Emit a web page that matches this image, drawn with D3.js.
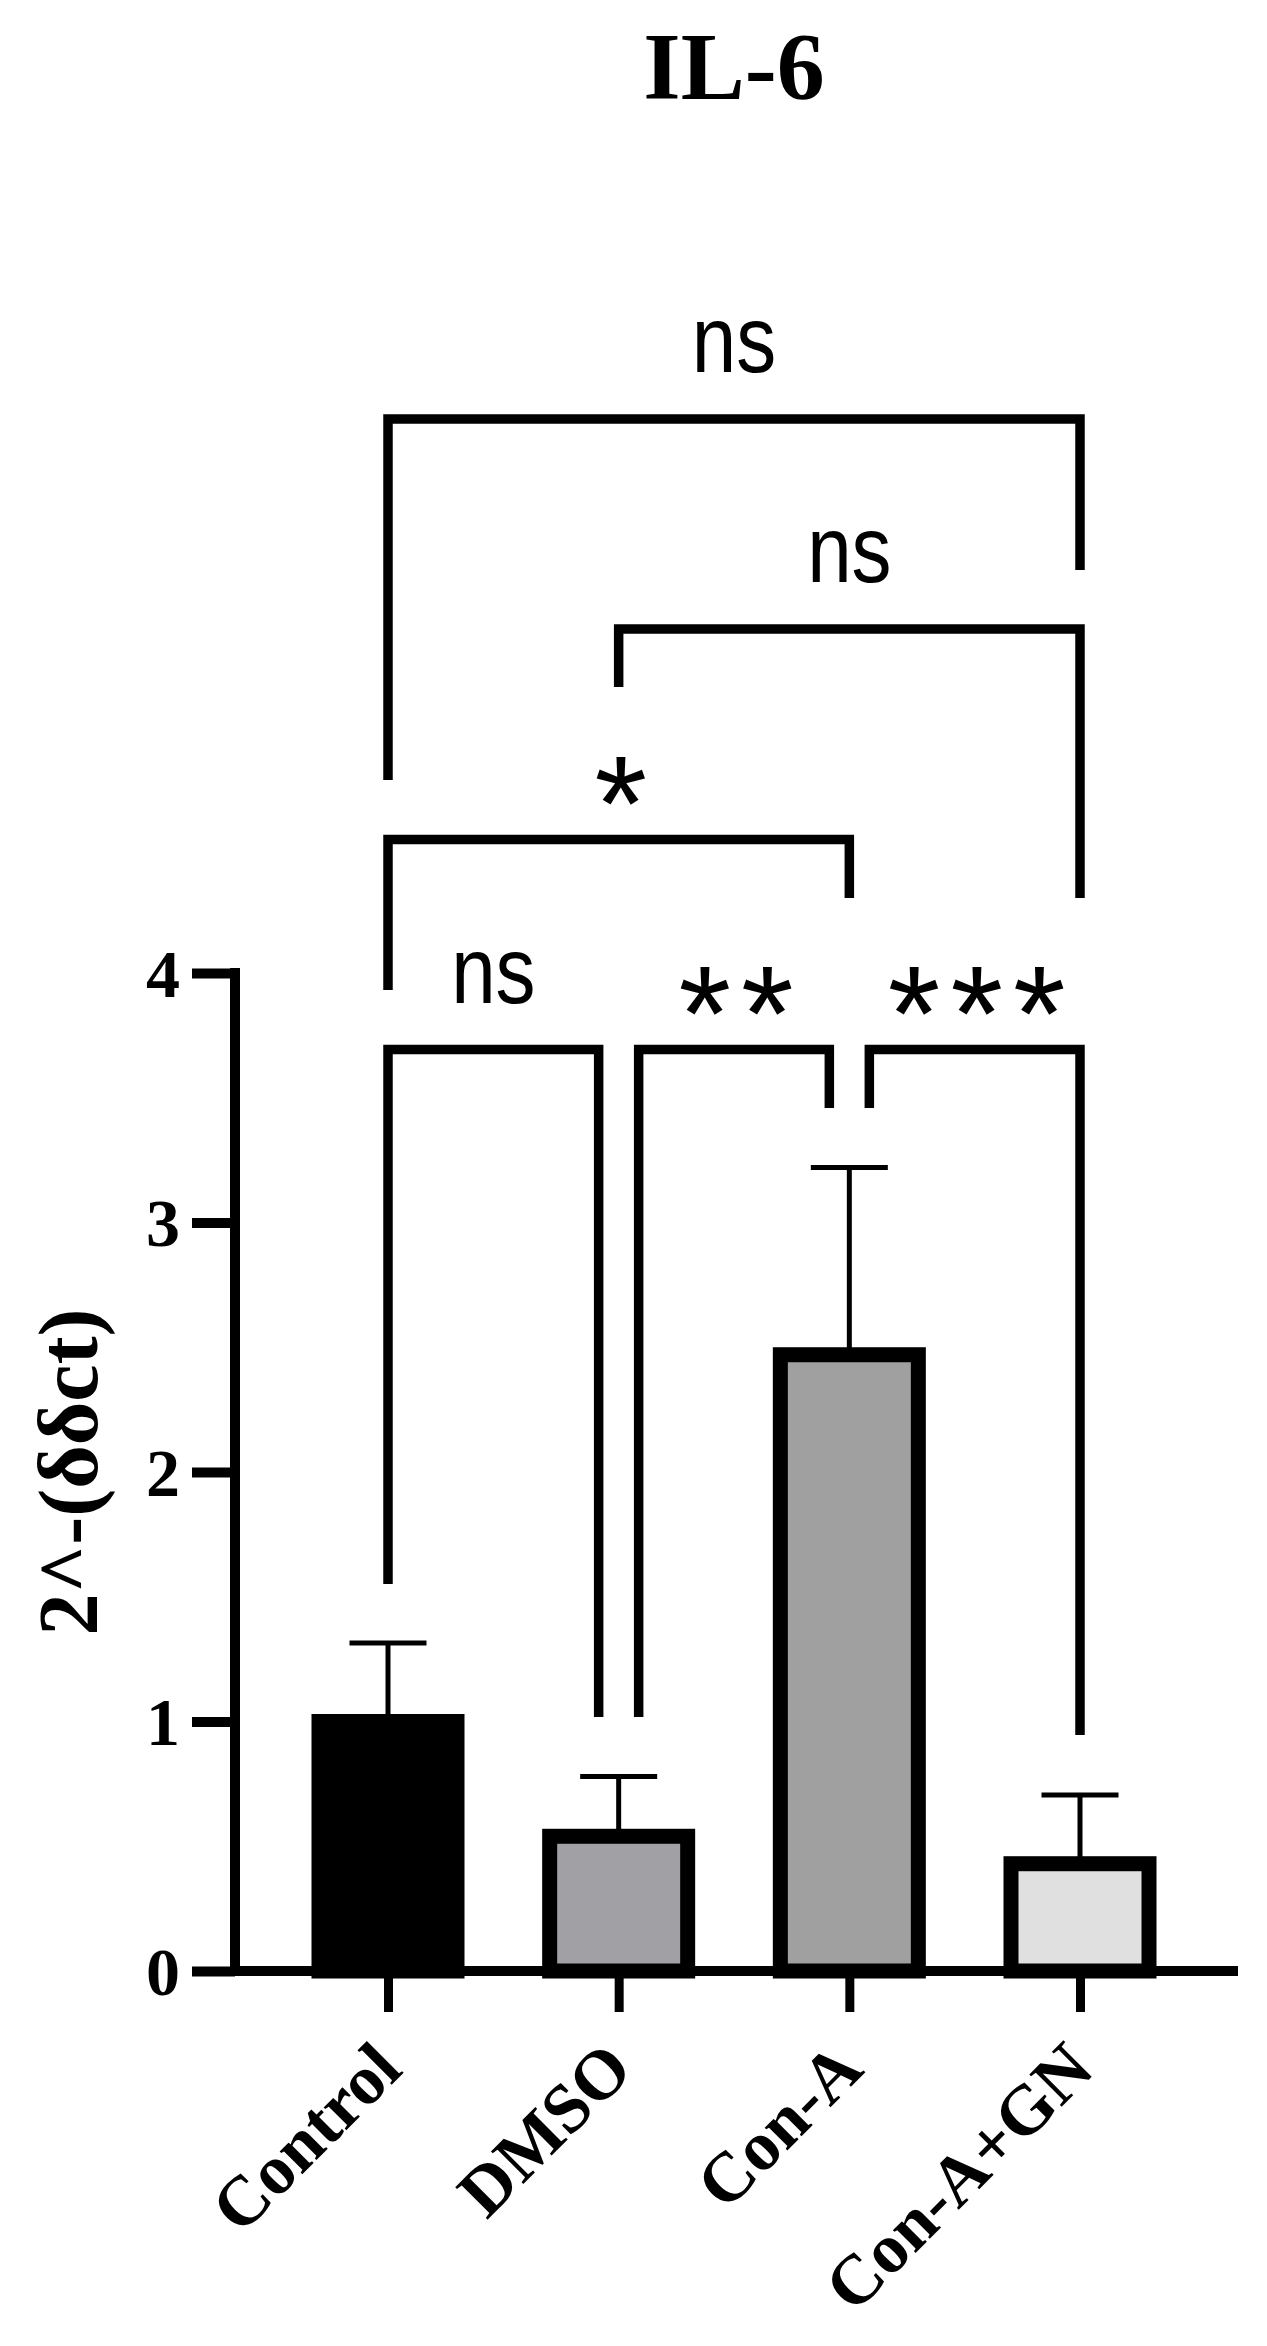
<!DOCTYPE html>
<html>
<head>
<meta charset="utf-8">
<script src="https://cdn.jsdelivr.net/npm/d3@7"></script>
<style>
  html, body { margin: 0; padding: 0; background: #fff; }
  svg { display: block; }
</style>
</head>
<body>
<div id="chart"></div>
<script>
// ---------- data ----------
const categories = ["Control", "DMSO", "Con-A", "Con-A+GN"];
const means      = [1.00, 0.54, 2.47, 0.43];
const sds        = [0.315, 0.24, 0.75, 0.275];
const fills      = ["#000000", "#a1a1a5", "#a0a0a0", "#e0e0e0"];
const yTicks     = [0, 1, 2, 3, 4];
const chartTitle = "IL-6";
const yTitle     = "2^-(δδct)";
// significance comparisons: group a, group b, label, bracket level, left leg end, right leg end (data units)
const compFrom   = [0, 1, 2, 0, 1, 0];
const compTo     = [1, 2, 3, 2, 3, 3];
const compLabel  = ["ns", "**", "***", "*", "ns", "ns"];
const compLevel  = [3.693, 3.693, 3.693, 4.535, 5.379, 6.220];
const compLegA   = [1.551, 1.018, 3.459, 3.932, 5.146, 4.774];
const compLegB   = [1.018, 3.459, 0.946, 4.301, 4.301, 5.615];

// ---------- layout ----------
const W = 1267, H = 2346;
const svg = d3.select("#chart").append("svg").attr("width", W).attr("height", H);

const axisX = 235, baseY = 1971;
const y = d3.scaleLinear().domain([0, 4]).range([baseY, baseY - 4 * 249.5]);
const x = d3.scalePoint().domain(categories).range([388, 1080]);
const barW = 138, barStroke = 15;

const serif = "'Liberation Serif', 'Times New Roman', serif";
const sans  = "'Liberation Sans', Arial, sans-serif";

// title
svg.append("text")
  .attr("x", 734).attr("y", 99)
  .attr("text-anchor", "middle")
  .style("font-family", serif).style("font-weight", "bold").style("font-size", "96px")
  .text(chartTitle);

// error bars
const eb = svg.append("g");
categories.forEach((c, i) => {
  const cx = x(c);
  eb.append("line").attr("x1", cx).attr("x2", cx)
    .attr("y1", y(means[i])).attr("y2", y(means[i] + sds[i]))
    .attr("stroke", "#000").attr("stroke-width", 5);
  eb.append("line").attr("x1", cx - 38.5).attr("x2", cx + 38.5)
    .attr("y1", y(means[i] + sds[i])).attr("y2", y(means[i] + sds[i]))
    .attr("stroke", "#000").attr("stroke-width", 5);
});

// bars
svg.append("g").selectAll("rect").data(categories).join("rect")
  .attr("x", d => x(d) - barW / 2)
  .attr("y", (d, i) => y(means[i]))
  .attr("width", barW)
  .attr("height", (d, i) => y(0) - y(means[i]))
  .attr("fill", (d, i) => fills[i])
  .attr("stroke", "#000").attr("stroke-width", barStroke);

// y axis
const yAxis = svg.append("g").attr("transform", `translate(${axisX},0)`)
  .call(d3.axisLeft(y).tickValues(yTicks).tickFormat(d3.format("d")).tickSize(43).tickSizeOuter(0).tickPadding(12));
yAxis.select(".domain").remove();
yAxis.selectAll(".tick line").attr("stroke", "#000").attr("stroke-width", 10);
yAxis.selectAll(".tick text")
  .attr("dy", "0.34em")
  .style("font-family", serif).style("font-weight", "bold").style("font-size", "68px").attr("fill", "#000");
svg.append("line").attr("x1", axisX).attr("x2", axisX).attr("y1", y(4) - 5).attr("y2", baseY + 5)
  .attr("stroke", "#000").attr("stroke-width", 10);

// x axis
const xAxis = svg.append("g").attr("transform", `translate(0,${baseY})`)
  .call(d3.axisBottom(x).tickSize(41).tickSizeOuter(0));
xAxis.select(".domain").remove();
xAxis.selectAll(".tick line").attr("stroke", "#000").attr("stroke-width", 9);
xAxis.selectAll(".tick text")
  .attr("x", 16).attr("y", 101).attr("dy", 0)
  .attr("text-anchor", "end")
  .attr("transform", "rotate(-45,16,101)")
  .style("font-family", serif).style("font-weight", "bold").style("font-size", "70px").attr("fill", "#000");
svg.append("line").attr("x1", axisX - 5).attr("x2", 1238).attr("y1", baseY).attr("y2", baseY)
  .attr("stroke", "#000").attr("stroke-width", 10);

// y title
svg.append("text")
  .attr("transform", `translate(97,${y(2)}) rotate(-90)`)
  .attr("text-anchor", "middle")
  .style("font-family", serif).style("font-weight", "bold").style("font-size", "84px")
  .text(yTitle);

// significance brackets
const br = svg.append("g");
compFrom.forEach((a, k) => {
  const b = compTo[k];
  const shareA = compFrom.some((a2, m) => m !== k && compLevel[m] === compLevel[k] && compTo[m] === a);
  const shareB = compTo.some((b2, m) => m !== k && compLevel[m] === compLevel[k] && compFrom[m] === b);
  const xa = x(categories[a]) + (shareA ? 20 : 0);
  const xb = x(categories[b]) - (shareB ? 20 : 0);
  const yl = y(compLevel[k]);
  br.append("path")
    .attr("d", `M${xa},${y(compLegA[k])} L${xa},${yl} L${xb},${yl} L${xb},${y(compLegB[k])}`)
    .attr("fill", "none").attr("stroke", "#000").attr("stroke-width", 9.5)
    .attr("stroke-linejoin", "miter").attr("stroke-linecap", "butt");
  const mid = (xa + xb) / 2;
  const lab = compLabel[k];
  if (lab === "ns") {
    br.append("text")
      .attr("transform", `translate(${mid},${yl - 47}) scale(0.85,1)`)
      .attr("text-anchor", "middle")
      .style("font-family", sans).style("font-size", "94px")
      .text(lab);
  } else {
    const ls = 10;
    br.append("text")
      .attr("x", mid + ls / 2 + 2).attr("y", yl + 10)
      .attr("text-anchor", "middle")
      .style("font-family", sans).style("font-size", "135px").style("letter-spacing", ls + "px")
      .text(lab);
  }
});
</script>
</body>
</html>
